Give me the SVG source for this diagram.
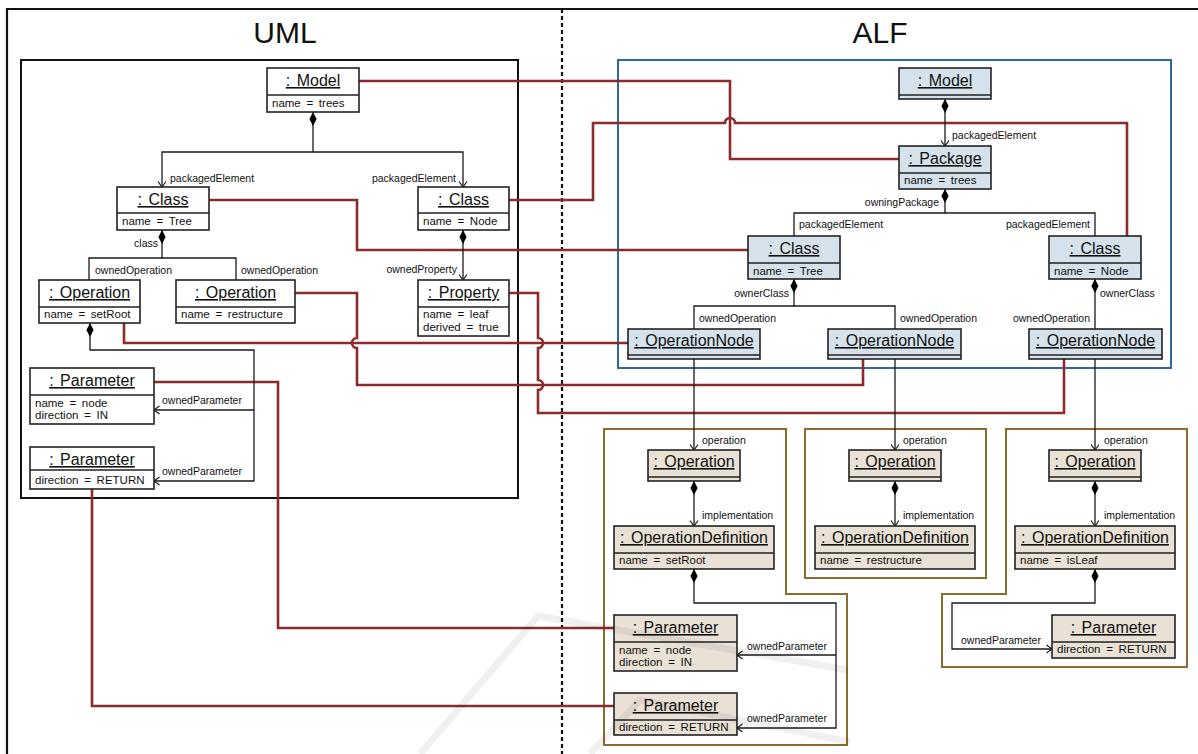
<svg xmlns="http://www.w3.org/2000/svg" width="1198" height="754" viewBox="0 0 1198 754">
  <style>
    text { font-family: "Liberation Sans", Arial, sans-serif; fill: #111; }
    .t { font-size: 16px; text-anchor: middle; text-decoration: underline; word-spacing: 2px; }
    .at { font-size: 11.5px; word-spacing: 2.5px; }
    .lb { font-size: 10.5px; }
    .e { text-anchor: end; }
    .hd { font-size: 30px; text-anchor: middle; }
    rect.u, rect.a, rect.b { stroke: #222; stroke-width: 1.6; }
    rect.u { fill: #ffffff; }
    rect.a { fill: #d5e2eb; }
    rect.b { fill: #e9e1d6; }
    .d { stroke: #222; stroke-width: 1.4; }
    .c { fill: none; stroke: #1a1a1a; stroke-width: 1.3; }
    .r { fill: none; stroke: #8b2c2c; stroke-width: 2.6; }
    .frame { fill: none; stroke: #111; stroke-width: 2.2; }
  </style>
  <defs>
    <marker id="arr" viewBox="-7 -5 8 10" refX="0" refY="0" markerWidth="8" markerHeight="10" markerUnits="userSpaceOnUse" orient="auto">
      <path d="M-5.5,-4 L0,0 L-5.5,4" fill="none" stroke="#1a1a1a" stroke-width="1.2"/>
    </marker>
    <marker id="dia" viewBox="0 -4 15 8" refX="0" refY="0" markerWidth="15" markerHeight="8" markerUnits="userSpaceOnUse" orient="auto">
      <path d="M0,0 L7,-3.6 L14,0 L7,3.6 Z" fill="#000"/>
    </marker>
  </defs>

  <!-- page frame, divider and headings -->
  <g id="frame">
    <path class="frame" d="M7 754 V9 H1198"/>
    <line x1="562" y1="9" x2="562" y2="754" stroke="#111" stroke-width="2.2" stroke-dasharray="4 3"/>
    <text class="hd" x="285" y="43">UML</text>
    <text class="hd" x="880" y="43">ALF</text>
  </g>

  <!-- containers -->
  <g id="containers">
    <rect x="21" y="60" width="497" height="438" fill="none" stroke="#111" stroke-width="2"/>
    <rect x="618" y="60" width="553" height="308" fill="none" stroke="#2e6a99" stroke-width="2"/>
    <path d="M604 429 H786 V594 H847 V745 H604 Z" fill="none" stroke="#8d6b30" stroke-width="2"/>
    <rect x="805" y="429" width="181" height="149" fill="none" stroke="#8d6b30" stroke-width="2"/>
    <path d="M1006 429 H1187 V667 H942 V594 H1006 Z" fill="none" stroke="#8d6b30" stroke-width="2"/>
  </g>

  <!-- trace links between UML and ALF elements -->
  <g id="trace-links">
    <path class="r" d="M359 81 H730 V159 H899"/>
    <path class="r" d="M509 200 H593 V123 H725 A5 5 0 0 1 735 123 H1127 V236"/>
    <path class="r" d="M209 200 H357 V250 H748"/>
    <path class="r" d="M124 323 V343 H628"/>
    <path class="r" d="M295 293 H357 V338 A5 5 0 0 0 357 348 V385 H863 V359"/>
    <path class="r" d="M509 293 H538 V338 A5 5 0 0 1 538 348 V380 A5 5 0 0 1 538 390 V413 H1064 V359"/>
    <path class="r" d="M154 382 H278 V628 H614"/>
    <path class="r" d="M92 489 V706 H614"/>
  </g>

  <!-- ownership connectors -->
  <g id="connectors">
    <path class="c" d="M313 112 V152 H162 V187" marker-start="url(#dia)" marker-end="url(#arr)"/>
    <path class="c" d="M313 152 H463 V187" marker-end="url(#arr)"/>
    <path class="c" d="M162 230 V258 H89 V280" marker-start="url(#dia)"/>
    <path class="c" d="M162 258 H236 V280"/>
    <path class="c" d="M463 230 V280" marker-start="url(#dia)" marker-end="url(#arr)"/>
    <path class="c" d="M90 323 V350 H254 V481 H154" marker-start="url(#dia)" marker-end="url(#arr)"/>
    <path class="c" d="M254 410 H154" marker-end="url(#arr)"/>

    <path class="c" d="M945 99 V146" marker-start="url(#dia)" marker-end="url(#arr)"/>
    <path class="c" d="M945 189 V213 H794 V236" marker-start="url(#dia)"/>
    <path class="c" d="M945 213 H1095 V236"/>
    <path class="c" d="M794 279 V306 H694 V329" marker-start="url(#dia)"/>
    <path class="c" d="M794 306 H895 V329"/>
    <path class="c" d="M1095 279 V329" marker-start="url(#dia)"/>
    <path class="c" d="M694 359 V450" marker-end="url(#arr)"/>
    <path class="c" d="M895 359 V450" marker-end="url(#arr)"/>
    <path class="c" d="M1095 359 V450" marker-end="url(#arr)"/>
    <path class="c" d="M694 481 V526" marker-start="url(#dia)" marker-end="url(#arr)"/>
    <path class="c" d="M895 481 V526" marker-start="url(#dia)" marker-end="url(#arr)"/>
    <path class="c" d="M1095 481 V526" marker-start="url(#dia)" marker-end="url(#arr)"/>
    <path class="c" d="M694 569 V603 H836 V728 H737" marker-start="url(#dia)" marker-end="url(#arr)"/>
    <path class="c" d="M836 655 H737" marker-end="url(#arr)"/>
    <path class="c" d="M1095 569 V603 H952 V649 H1052" marker-start="url(#dia)" marker-end="url(#arr)"/>

    <!-- role names -->
    <text class="lb" x="170" y="182">packagedElement</text>
    <text class="lb e" x="456" y="182">packagedElement</text>
    <text class="lb e" x="158" y="247">class</text>
    <text class="lb" x="95" y="274">ownedOperation</text>
    <text class="lb" x="241" y="274">ownedOperation</text>
    <text class="lb e" x="457" y="273">ownedProperty</text>
    <text class="lb" x="162" y="404">ownedParameter</text>
    <text class="lb" x="162" y="475">ownedParameter</text>

    <text class="lb" x="952" y="139">packagedElement</text>
    <text class="lb e" x="939" y="206">owningPackage</text>
    <text class="lb" x="799" y="228">packagedElement</text>
    <text class="lb e" x="1090" y="228">packagedElement</text>
    <text class="lb e" x="789" y="297">ownerClass</text>
    <text class="lb" x="1100" y="297">ownerClass</text>
    <text class="lb" x="699" y="322">ownedOperation</text>
    <text class="lb" x="900" y="322">ownedOperation</text>
    <text class="lb e" x="1090" y="322">ownedOperation</text>
    <text class="lb" x="702" y="444">operation</text>
    <text class="lb" x="903" y="444">operation</text>
    <text class="lb" x="1104" y="444">operation</text>
    <text class="lb" x="702" y="519">implementation</text>
    <text class="lb" x="903" y="519">implementation</text>
    <text class="lb" x="1104" y="519">implementation</text>
    <text class="lb" x="747" y="650">ownedParameter</text>
    <text class="lb" x="747" y="722">ownedParameter</text>
    <text class="lb" x="961" y="644">ownedParameter</text>
  </g>

  <!-- UML instance specifications -->
  <g id="uml-model"><rect class="u" x="267" y="68" width="92" height="44"/><line class="d" x1="267" y1="95" x2="359" y2="95"/><text class="t" x="313" y="86">: Model</text><text class="at" x="272" y="107">name = trees</text></g>
  <g id="uml-class-tree"><rect class="u" x="117" y="187" width="92" height="43"/><line class="d" x1="117" y1="213" x2="209" y2="213"/><text class="t" x="163" y="205">: Class</text><text class="at" x="122" y="225">name = Tree</text></g>
  <g id="uml-class-node"><rect class="u" x="418" y="187" width="91" height="43"/><line class="d" x1="418" y1="213" x2="509" y2="213"/><text class="t" x="463.5" y="205">: Class</text><text class="at" x="423" y="225">name = Node</text></g>
  <g id="uml-op-setroot"><rect class="u" x="39" y="280" width="101" height="43"/><line class="d" x1="39" y1="307" x2="140" y2="307"/><text class="t" x="89.5" y="298">: Operation</text><text class="at" x="44" y="318">name = setRoot</text></g>
  <g id="uml-op-restructure"><rect class="u" x="176" y="280" width="119" height="43"/><line class="d" x1="176" y1="307" x2="295" y2="307"/><text class="t" x="235.5" y="298">: Operation</text><text class="at" x="181" y="318">name = restructure</text></g>
  <g id="uml-property"><rect class="u" x="418" y="280" width="91" height="56"/><line class="d" x1="418" y1="307" x2="509" y2="307"/><text class="t" x="463.5" y="298">: Property</text><text class="at" x="423" y="318">name = leaf</text><text class="at" x="423" y="331">derived = true</text></g>
  <g id="uml-param-node"><rect class="u" x="30" y="368" width="124" height="56"/><line class="d" x1="30" y1="395" x2="154" y2="395"/><text class="t" x="92" y="386">: Parameter</text><text class="at" x="35" y="407">name = node</text><text class="at" x="35" y="419">direction = IN</text></g>
  <g id="uml-param-return"><rect class="u" x="30" y="447" width="124" height="42"/><line class="d" x1="30" y1="470" x2="154" y2="470"/><text class="t" x="92" y="465">: Parameter</text><text class="at" x="35" y="484">direction = RETURN</text></g>

  <!-- ALF structure nodes -->
  <g id="alf-model"><rect class="a" x="899" y="68" width="92" height="31"/><line class="d" x1="899" y1="95" x2="991" y2="95"/><text class="t" x="945" y="86">: Model</text></g>
  <g id="alf-package"><rect class="a" x="899" y="146" width="92" height="43"/><line class="d" x1="899" y1="173" x2="991" y2="173"/><text class="t" x="945" y="164">: Package</text><text class="at" x="904" y="184">name = trees</text></g>
  <g id="alf-class-tree"><rect class="a" x="748" y="236" width="92" height="43"/><line class="d" x1="748" y1="263" x2="840" y2="263"/><text class="t" x="794" y="254">: Class</text><text class="at" x="753" y="275">name = Tree</text></g>
  <g id="alf-class-node"><rect class="a" x="1049" y="236" width="92" height="43"/><line class="d" x1="1049" y1="263" x2="1141" y2="263"/><text class="t" x="1095" y="254">: Class</text><text class="at" x="1054" y="275">name = Node</text></g>
  <g id="alf-opnode-setroot"><rect class="a" x="628" y="329" width="132" height="30"/><line class="d" x1="628" y1="355" x2="760" y2="355"/><text class="t" x="694" y="346">: OperationNode</text></g>
  <g id="alf-opnode-restructure"><rect class="a" x="828" y="329" width="133" height="30"/><line class="d" x1="828" y1="355" x2="961" y2="355"/><text class="t" x="894.5" y="346">: OperationNode</text></g>
  <g id="alf-opnode-isleaf"><rect class="a" x="1029" y="329" width="133" height="30"/><line class="d" x1="1029" y1="355" x2="1162" y2="355"/><text class="t" x="1095.5" y="346">: OperationNode</text></g>

  <!-- ALF operation bodies -->
  <g id="alf-op-setroot"><rect class="b" x="648" y="450" width="92" height="31"/><line class="d" x1="648" y1="477" x2="740" y2="477"/><text class="t" x="694" y="467">: Operation</text></g>
  <g id="alf-op-restructure"><rect class="b" x="849" y="450" width="92" height="31"/><line class="d" x1="849" y1="477" x2="941" y2="477"/><text class="t" x="895" y="467">: Operation</text></g>
  <g id="alf-op-isleaf"><rect class="b" x="1049" y="450" width="92" height="31"/><line class="d" x1="1049" y1="477" x2="1141" y2="477"/><text class="t" x="1095" y="467">: Operation</text></g>
  <g id="alf-opdef-setroot"><rect class="b" x="614" y="526" width="160" height="43"/><line class="d" x1="614" y1="553" x2="774" y2="553"/><text class="t" x="694" y="543">: OperationDefinition</text><text class="at" x="619" y="564">name = setRoot</text></g>
  <g id="alf-opdef-restructure"><rect class="b" x="815" y="526" width="160" height="43"/><line class="d" x1="815" y1="553" x2="975" y2="553"/><text class="t" x="895" y="543">: OperationDefinition</text><text class="at" x="820" y="564">name = restructure</text></g>
  <g id="alf-opdef-isleaf"><rect class="b" x="1015" y="526" width="160" height="43"/><line class="d" x1="1015" y1="553" x2="1175" y2="553"/><text class="t" x="1095" y="543">: OperationDefinition</text><text class="at" x="1020" y="564">name = isLeaf</text></g>
  <g id="alf-param-node"><rect class="b" x="614" y="615" width="123" height="56"/><line class="d" x1="614" y1="642" x2="737" y2="642"/><text class="t" x="675.5" y="633">: Parameter</text><text class="at" x="619" y="654">name = node</text><text class="at" x="619" y="666">direction = IN</text></g>
  <g id="alf-param-return"><rect class="b" x="614" y="693" width="123" height="42"/><line class="d" x1="614" y1="720" x2="737" y2="720"/><text class="t" x="675.5" y="711">: Parameter</text><text class="at" x="619" y="731">direction = RETURN</text></g>
  <g id="alf-param-leaf"><rect class="b" x="1052" y="615" width="123" height="43"/><line class="d" x1="1052" y1="642" x2="1175" y2="642"/><text class="t" x="1113.5" y="633">: Parameter</text><text class="at" x="1057" y="653">direction = RETURN</text></g>

  <!-- faint background mark -->
  <g id="mark" fill="none" stroke="#000" stroke-opacity="0.06" stroke-width="7" stroke-linejoin="round">
    <path d="M420 754 L538 616 L848 670"/>
    <path d="M590 754 L640 700 L850 742"/>
  </g>
</svg>
